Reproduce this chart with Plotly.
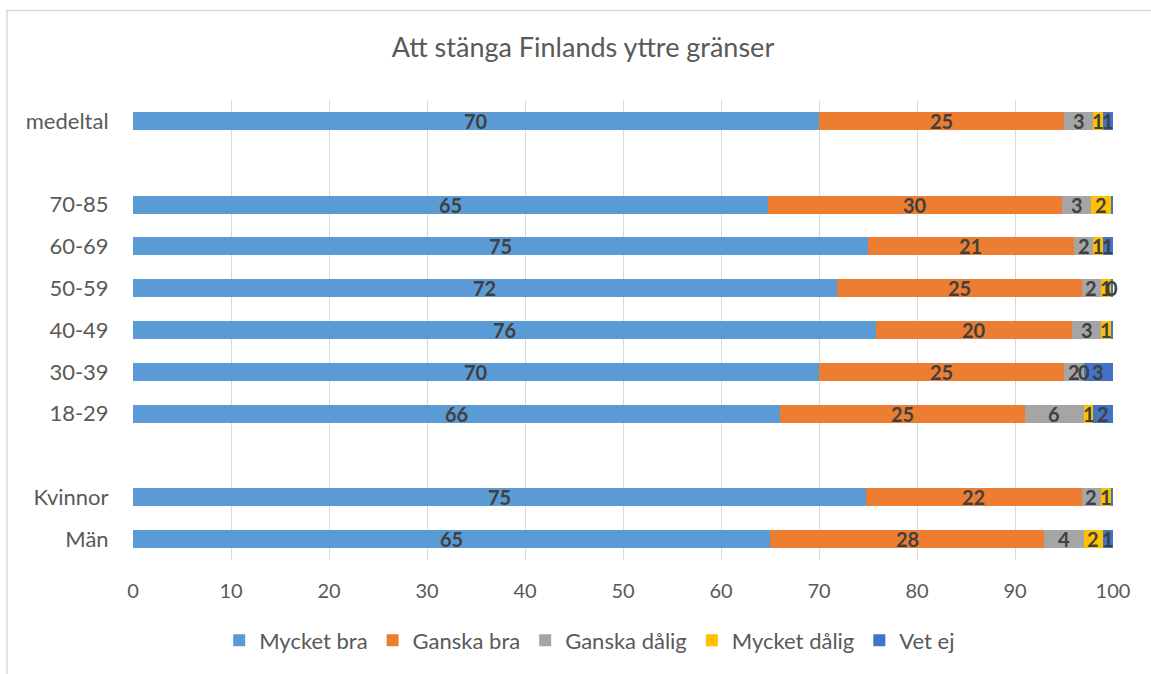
import plotly.graph_objects as go

# Categories from bottom to top (" " / "  " = spacer rows)
categories = ["Män", "Kvinnor", " ", "18-29", "30-39", "40-49", "50-59", "60-69", "70-85", "  ", "medeltal"]

series_names = ["Mycket bra", "Ganska bra", "Ganska dålig", "Mycket dålig", "Vet ej"]
mycket_bra   = [65, 74.8, None, 66, 70, 75.8, 71.8, 75, 64.8, None, 70]
ganska_bra   = [28, 22, None, 25, 25, 20, 25, 21, 30, None, 25]
ganska_dalig = [4, 2, None, 6, 2, 3, 2, 2, 3, None, 3]
mycket_dalig = [2, 1, None, 1, 0, 1, 1, 1, 2, None, 1]
vet_ej       = [1, 0.2, None, 2, 3, 0.2, 0.2, 1, 0.2, None, 1]
# data labels shown for "Vet ej" (None = hidden)
vet_ej_labels = ["1", None, None, "2", "3", None, "0", "1", None, None, "1"]

series_values = [mycket_bra, ganska_bra, ganska_dalig, mycket_dalig, vet_ej]
colors = ["#5B9BD5", "#ED7D31", "#A5A5A5", "#FFC000", "#4472C4"]

FONT = "Lato"

fig = go.Figure()
for name, vals, col in zip(series_names, series_values, colors):
    fig.add_trace(go.Bar(
        y=categories, x=vals, name=name, orientation="h",
        marker=dict(color=col, line=dict(width=0)),
    ))

# data labels as annotations centred on each segment
annotations = []
cum = [0.0] * len(categories)
for si, vals in enumerate(series_values):
    for i, v in enumerate(vals):
        if v is None:
            continue
        center = cum[i] + v / 2
        if si == 4:
            label = vet_ej_labels[i]
        else:
            label = str(int(round(v)))
        cum[i] += v
        if label is None:
            continue
        annotations.append(dict(
            x=center, y=categories[i], xref="x", yref="y", text="<b>%s</b>" % label,
            showarrow=False, font=dict(size=20, color="#404040", family=FONT),
            xanchor="center", yanchor="middle",
        ))

fig.update_layout(
    barmode="stack",
    bargap=0.57,
    width=1151, height=674,
    margin=dict(l=133, r=38, t=100, b=112),
    paper_bgcolor="white", plot_bgcolor="white",
    font=dict(family=FONT, color="#595959", size=20),
    title=dict(text="Att stänga Finlands yttre gränser", x=583 / 1151, xref="container",
               y=1 - 48 / 674, yref="container", xanchor="center", yanchor="middle",
               font=dict(size=27, color="#595959", family=FONT)),
    xaxis=dict(range=[0, 100], dtick=10, showgrid=True, gridcolor="#D9D9D9", gridwidth=1,
               zeroline=False, showline=False, ticks="outside", ticklen=13,
               tickcolor="rgba(0,0,0,0)", tickfont=dict(size=20, color="#595959", family=FONT)),
    yaxis=dict(type="category", categoryorder="array", categoryarray=categories,
               showgrid=False, showline=False, ticks="outside", ticklen=19,
               tickcolor="rgba(0,0,0,0)",
               tickfont=dict(size=22, color="#595959", family=FONT)),
    legend=dict(orientation="h", x=0.466, xanchor="center", y=-0.175, yanchor="middle",
                font=dict(size=22, color="#595959", family=FONT), traceorder="normal",
                itemwidth=30),
    annotations=annotations,
    shapes=[dict(type="rect", xref="paper", yref="paper",
                 x0=(7 - 133) / 980, x1=(1160 - 133) / 980,
                 y0=1 - (680 - 100) / 462, y1=1 - (10 - 100) / 462,
                 line=dict(color="#D9D9D9", width=1.5), layer="below")],
)

fig.write_html("out.html", config={"displayModeBar": False},
               post_script="document.body.style.margin='0';document.body.style.padding='0';")
